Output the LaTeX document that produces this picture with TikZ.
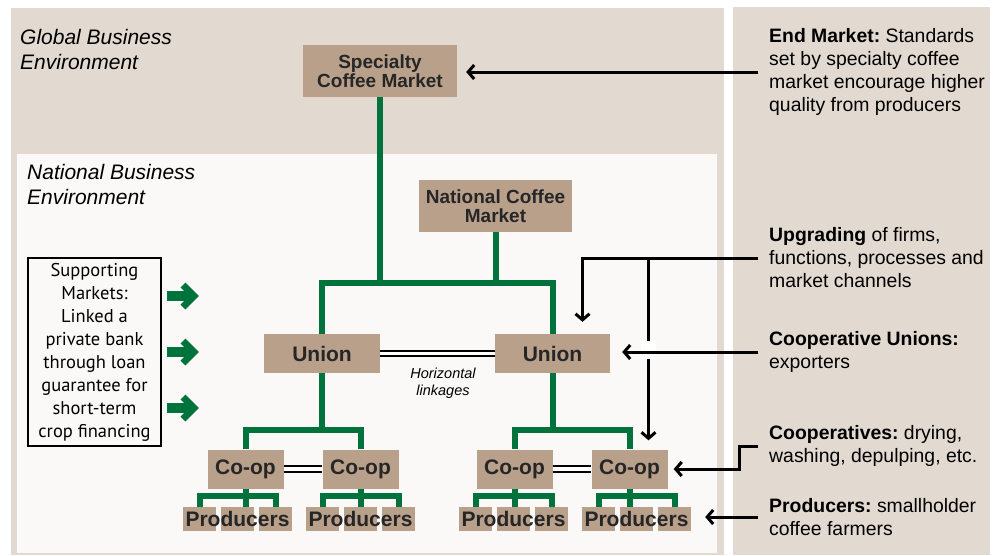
\documentclass[tikz,border=0pt]{standalone}
\usepackage{fontspec}
\setmainfont{Liberation Sans}
\newfontfamily\suppfont{PT Sans}
\usetikzlibrary{arrows.meta}
\frenchspacing

\definecolor{envbeige}{HTML}{E2D9D0}
\definecolor{natbg}{HTML}{FAF9F7}
\definecolor{boxtan}{HTML}{B9A08A}
\definecolor{boxtext}{HTML}{262626}
\definecolor{chaingreen}{HTML}{00733C}

\begin{document}
\begin{tikzpicture}[x=1pt, y=-1pt,
    market/.style={fill=boxtan, text=boxtext, font=\fontsize{19}{19}\selectfont\bfseries, align=center, inner sep=0pt, minimum width=154pt, minimum height=52pt},
    actor/.style={fill=boxtan, text=boxtext, font=\fontsize{21}{24}\selectfont\bfseries, inner sep=0pt, minimum height=39pt},
    prodbox/.style={fill=boxtan, inner sep=0pt, minimum width=33pt, minimum height=24pt},
    tree/.style={draw=chaingreen, line width=6pt},
    linkage/.style={double, line width=1.8pt, double distance=3.6pt},
    note/.style={anchor=west, align=left, inner xsep=11pt, inner ysep=0pt, font=\fontsize{19.4}{23}\selectfont\frenchspacing},
    region/.style={anchor=north west, align=left, inner sep=0pt, font=\fontsize{21}{25}\selectfont\itshape},
    pointer/.style={line width=3pt, -{Straight Barb[length=6pt, width=14pt]}}
]

    \useasboundingbox (0,0) rectangle (998,555);
    \fill[envbeige] (11,8) rectangle (724,555);
    \fill[natbg] (17,154) rectangle (717,553);
    \fill[envbeige] (733,7) rectangle (990,555);

    \node[region] (G) at (20,29) {Global Business\\Environment};
    \node[region] (NB) at (27,164) {National Business\\Environment};

    \node[market] (S) at (380,71) {Specialty\\Coffee Market};
    \node[market, minimum width=153pt] (N) at (495.5,206) {National Coffee\\Market};

    \node[actor, minimum width=116pt] (U1) at (322,353.5) {Union};
    \node[actor, minimum width=115pt] (U2) at (552.5,353.5) {Union};

    \foreach \i/\x in {1/245.5, 2/360.5, 3/514.5, 4/629.5}
        \node[actor, minimum width=76pt] (C\i) at (\x,469) {Co-op};

    \foreach \i/\x in {1/237.5, 2/360.5, 3/513.5, 4/636.5} {
        \node[prodbox] (Pa\i) at (\x-38,519) {};
        \node[prodbox] (Pb\i) at (\x,519) {};
        \node[prodbox] (Pc\i) at (\x+38,519) {};
        \node[font=\fontsize{21}{24}\selectfont\bfseries, text=boxtext, inner sep=0pt] (Pt\i) at (Pb\i) {Producers};
    }

    \draw[tree] (S.south) -- (S.south |- 0,283);
    \draw[tree] (N.south) -- (N.south |- 0,283);
    \draw[tree] (U1.north) |- (U2.north |- 0,283) -- (U2.north);

    \draw[tree] (U1.south) -- (U1.south |- 0,430);
    \draw[tree] (C1.north) |- (C2.north |- 0,430) -- (C2.north);
    \draw[tree] (U2.south) -- (U2.south |- 0,430);
    \draw[tree] (C3.north) |- (C4.north |- 0,430) -- (C4.north);

    \foreach \i in {1,...,4} {
        \draw[tree] (C\i.south) -- (C\i.south |- Pb\i.north);
        \draw[tree] (Pa\i.north) |- (Pc\i.north |- 0,496) -- (Pc\i.north);
    }

    \draw[linkage] (U1) -- (U2);
    \draw[linkage] (C1) -- (C2);
    \draw[linkage] (C3) -- (C4);
    \node[font=\fontsize{14.5}{17}\selectfont\itshape, align=center, inner sep=0pt] (H) at (443,383) {Horizontal\\linkages};

    \node[draw, line width=2pt, align=center, inner sep=0pt, minimum width=133pt, minimum height=188pt, font=\suppfont\fontsize{18.5}{23}\selectfont] (SM) at (94.5,352) {Supporting\\Markets:\\Linked a\\private bank\\through loan\\guarantee for\\short-term\\crop financing};

    \foreach \y in {296,352,408} {
        \draw[chaingreen, line width=10pt] (167,\y) -- (190,\y);
        \draw[chaingreen, line width=7pt] (183,\y-11) -- (194,\y) -- (183,\y+11);
    }

    \node[note] (nEnd) at (758,72) {\textbf{End Market:} Standards\\set by specialty coffee\\market encourage higher\\quality from producers};
    \node[note] (nUp) at (758,258) {\textbf{Upgrading} of firms,\\functions, processes and\\market channels};
    \node[note] (nCU) at (758,352) {\textbf{Cooperative Unions:}\\exporters};
    \node[note] (nCo) at (758,446) {\textbf{Cooperatives:} drying,\\washing, depulping, etc.};
    \node[note] (nPr) at (758,517) {\textbf{Producers:} smallholder\\coffee farmers};

    \coordinate (upA) at ([xshift=30pt]U2.north);
    \coordinate (upB) at ([xshift=19pt]C4.north);

    \draw[pointer, shorten >=9pt] (nEnd.west) -- (nEnd.west -| S.east);
    \draw[pointer, shorten >=12pt] (nUp.west) -| (upA);
    \draw[pointer, shorten >=9pt] (upB |- nUp.west) -- (upB);
    \fill[white] (641,341) rectangle (656,359);
    \draw[pointer, shorten >=12pt] (nCU.west) -- (nCU.west -| U2.east);
    \draw[pointer, shorten >=6pt] (nCo.west) -- ++(-19,0) |- (C4.east);
    \draw[pointer, shorten >=14pt] (nPr.west) -- (nPr.west -| Pc4.east);

\end{tikzpicture}
\end{document}
